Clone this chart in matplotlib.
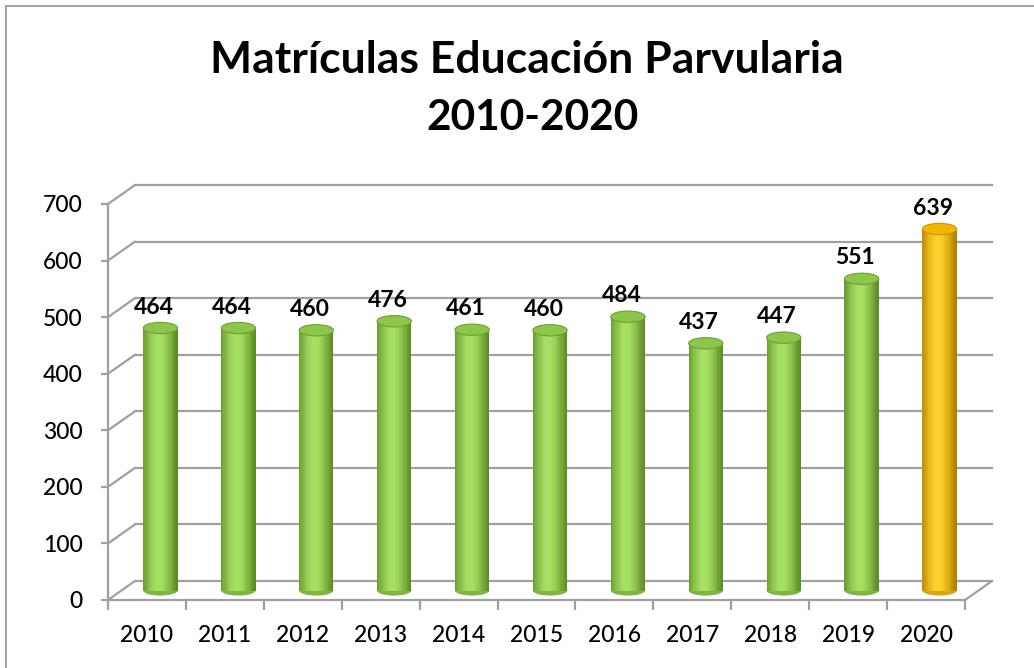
import matplotlib
matplotlib.use("Agg")
import matplotlib.pyplot as plt
import matplotlib.transforms as mtransforms
from matplotlib.patches import Ellipse, Rectangle
import numpy as np

years = ["2010", "2011", "2012", "2013", "2014", "2015",
         "2016", "2017", "2018", "2019", "2020"]
matriculas = [464, 464, 460, 476, 461, 460, 484, 437, 447, 551, 639]
y_ticks = [0, 100, 200, 300, 400, 500, 600, 700]
title_1 = "Matrículas Educación Parvularia"
title_2 = "2010-2020"

plt.rcParams["font.family"] = ["Lato", "DejaVu Sans"]

W, H = 1034, 668
fig = plt.figure(figsize=(W / 100, H / 100), dpi=100)
fig.patch.set_facecolor("white")

# front plane of the 3d box, in pixels
ax = fig.add_axes([108 / W, (H - 600) / H, (965 - 108) / W, (600 - 204) / H])
ax.set_xlim(-0.5, len(years) - 0.5)
ax.set_ylim(0, 700)
ax.patch.set_alpha(0)

grid_c = "#a0a0a0"
depth = (27, 19)  # back wall offset in pixels
back = mtransforms.offset_copy(ax.transData, fig=fig, x=depth[0], y=depth[1], units="dots")
mid = mtransforms.offset_copy(ax.transData, fig=fig, x=depth[0] / 2, y=depth[1] / 2, units="dots")

x0, x1 = -0.5, len(years) - 0.5
for v in y_ticks:
    ax.plot([x0, x1], [v, v], color=grid_c, lw=1.6, transform=back, zorder=1, clip_on=False)
    ax.annotate("", xy=(x0, v), xytext=depth, textcoords="offset pixels",
                arrowprops=dict(arrowstyle="-", color=grid_c, lw=1.6, shrinkA=0, shrinkB=0),
                annotation_clip=False, zorder=1)
# right edge of the floor
ax.annotate("", xy=(x1, 0), xytext=depth, textcoords="offset pixels",
            arrowprops=dict(arrowstyle="-", color=grid_c, lw=1.6, shrinkA=0, shrinkB=0),
            annotation_clip=False, zorder=1)

for s in ["top", "right"]:
    ax.spines[s].set_visible(False)
for s in ["left", "bottom"]:
    ax.spines[s].set_color(grid_c)
    ax.spines[s].set_linewidth(1.6)

ax.set_yticks(y_ticks)
ax.set_xticks(range(len(years)))
ax.set_xticklabels(years)
ax.set_xticks(np.arange(-0.5, len(years)), minor=True)
ax.tick_params(axis="y", length=5, width=1.6, color=grid_c, pad=13, labelsize=16.5)
ax.tick_params(axis="x", which="major", length=0, pad=18, labelsize=16.5)
ax.tick_params(axis="x", which="minor", length=7, width=1.6, color=grid_c)
for lab in ax.get_xticklabels() + ax.get_yticklabels():
    lab.set_fontweight("medium")


def cylinder(i, v, dark, light, top, top_edge):
    w = 0.44
    n = 30
    dark = np.array(matplotlib.colors.to_rgb(dark))
    light = np.array(matplotlib.colors.to_rgb(light))
    t = (np.arange(n) + 0.5) / n
    s = np.clip(np.cos((t - 0.45) * np.pi * 0.9), 0, 1) ** 1.3
    cols = [tuple(dark + (light - dark) * k) for k in s]
    xs = i - w / 2 + (np.arange(n) + 0.5) * w / n
    ax.add_patch(Ellipse((i, 0), w, 18, facecolor=tuple(dark * 0.5 + light * 0.5),
                         edgecolor="none", transform=mid, zorder=3))
    ax.bar(xs, [v] * n, width=w / n * 1.05, color=cols, linewidth=0,
           transform=mid, zorder=4)
    ax.add_patch(Ellipse((i, v), w, 20, facecolor=top, edgecolor=top_edge,
                         lw=0.8, transform=mid, zorder=5))


for i, (yr, v) in enumerate(zip(years, matriculas)):
    if yr == "2020":
        cylinder(i, v, "#b07e00", "#ffd02a", "#f2b600", "#c99400")
    else:
        cylinder(i, v, "#5a8a22", "#a6e063", "#8cc64a", "#6f9f34")
    ax.annotate(str(v), xy=(i, v), xytext=(7, 24), textcoords="offset pixels",
                ha="center", va="baseline", fontsize=16.5, fontweight="bold",
                annotation_clip=False, zorder=6)

fig.text(527 / W, 1 - 73 / H, title_1, ha="center", va="baseline",
         fontsize=32, fontweight="bold")
fig.text(532 / W, 1 - 130 / H, title_2, ha="center", va="baseline",
         fontsize=30.5, fontweight="bold")

fig.add_artist(Rectangle((6 / W, -0.1), 1.2, 1.1 - 6 / H, transform=fig.transFigure,
                         facecolor="none", edgecolor="#a6a6a6", lw=1.5))

fig.savefig("out.png", dpi=100)
